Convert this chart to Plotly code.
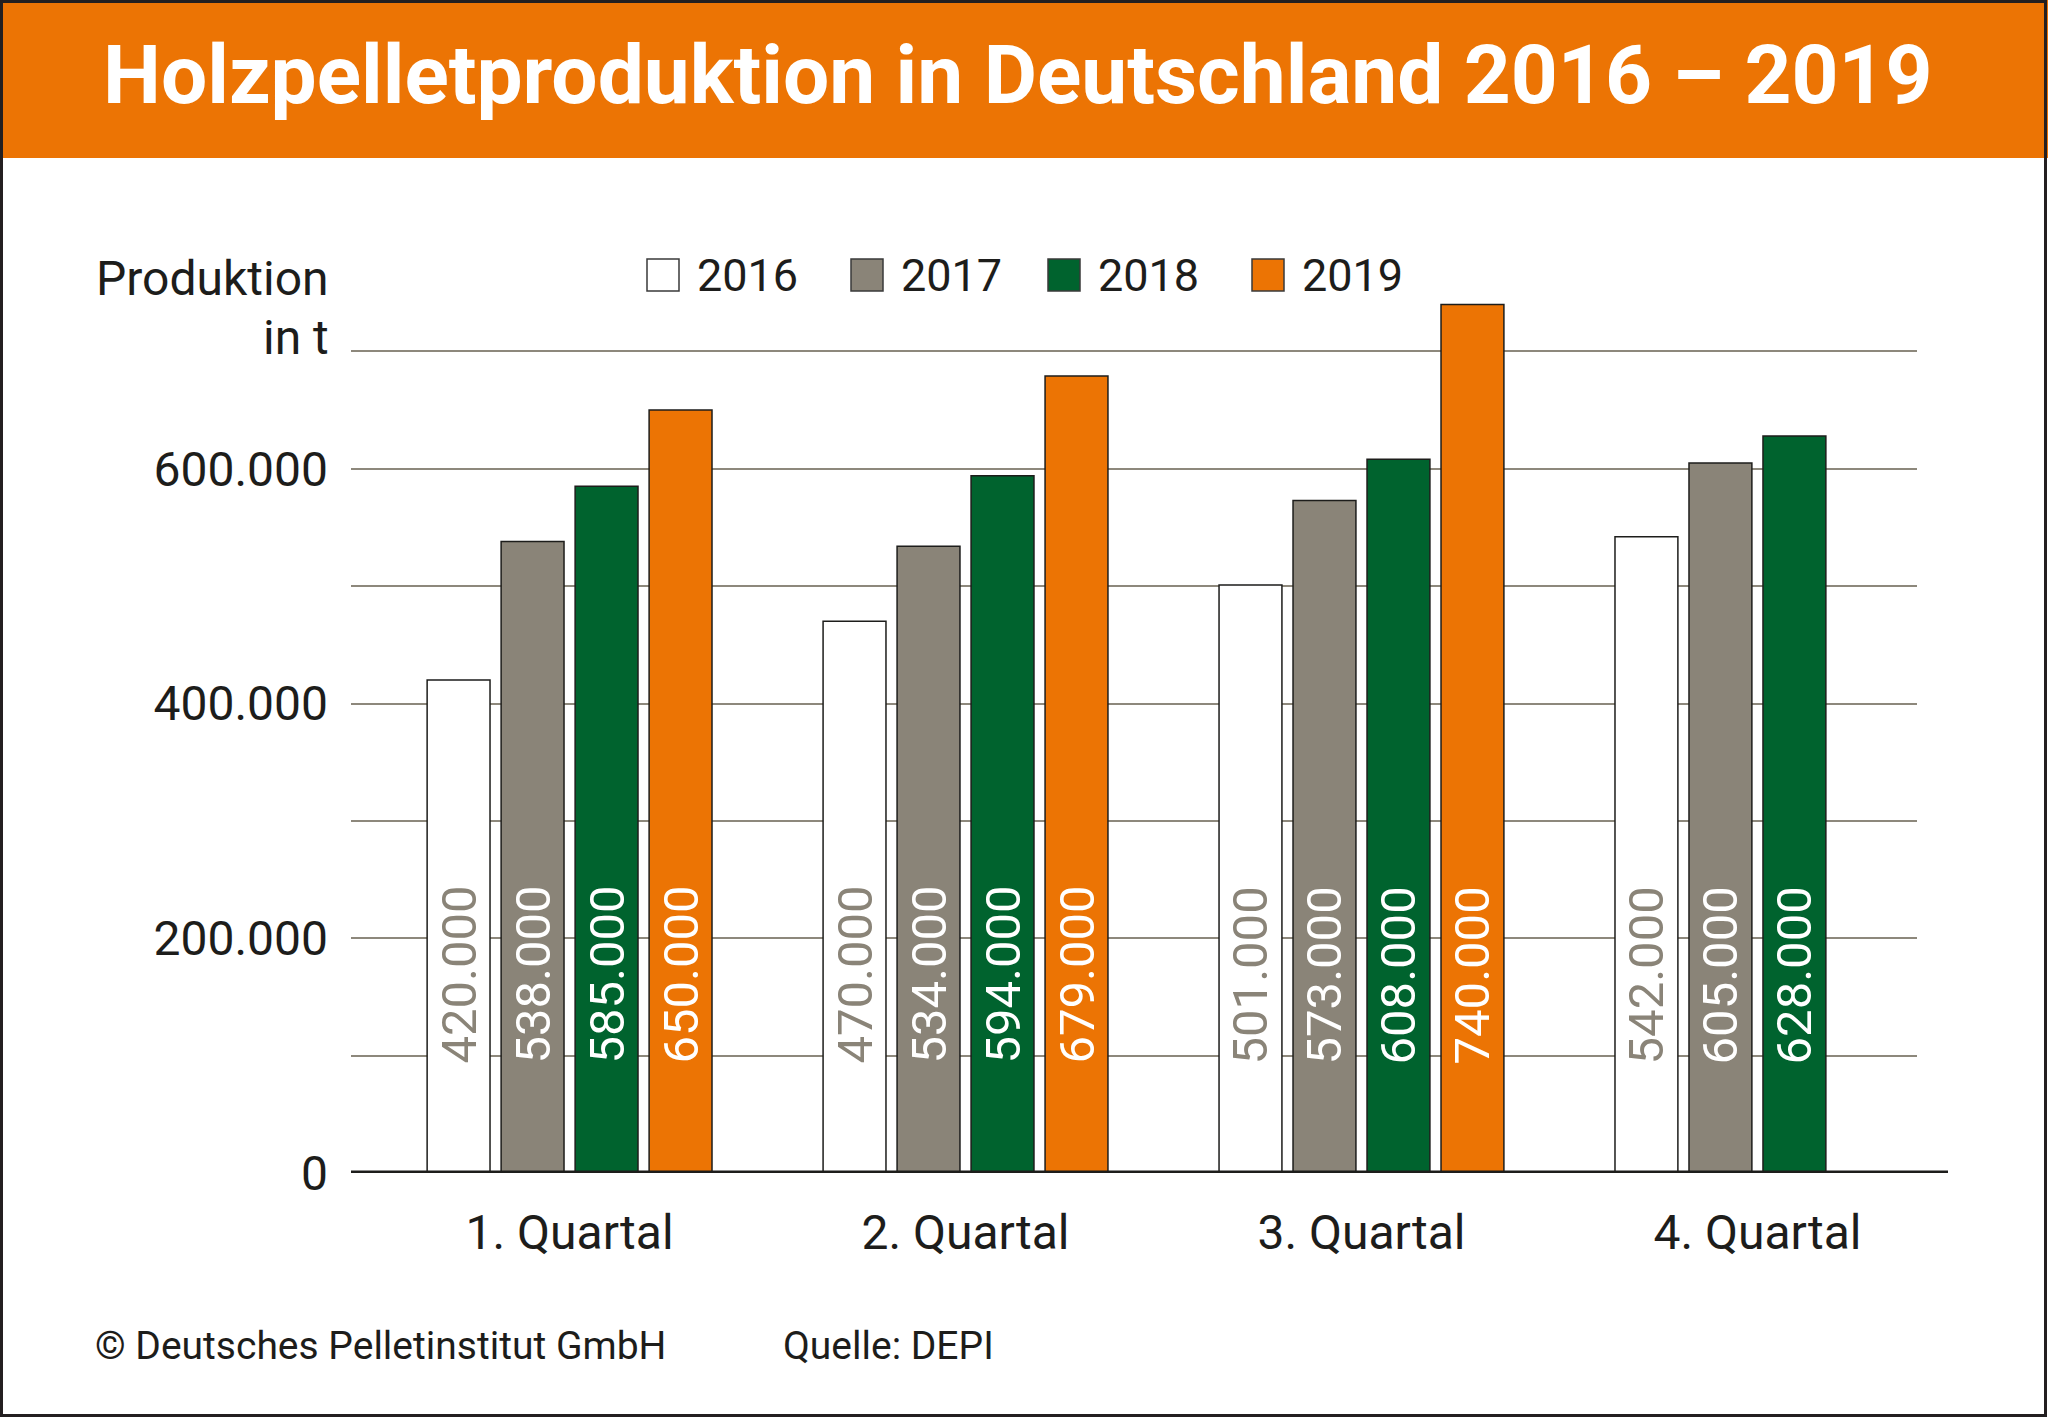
import plotly.graph_objects as go

# ---------------- data ----------------
categories = ["1. Quartal", "2. Quartal", "3. Quartal", "4. Quartal"]
years = ["2016", "2017", "2018", "2019"]
v2016 = [420000, 470000, 501000, 542000]
v2017 = [538000, 534000, 573000, 605000]
v2018 = [585000, 594000, 608000, 628000]
v2019 = [650000, 679000, 740000, None]
series_values = [v2016, v2017, v2018, v2019]

ytick_vals = [0, 100000, 200000, 300000, 400000, 500000, 600000, 700000]
ytick_text = ["0", "", "200.000", "", "400.000", "", "600.000", ""]

title_text = "Holzpelletproduktion in Deutschland 2016 – 2019"
ytitle_lines = ["Produktion", "in t"]
footer_left = "© Deutsches Pelletinstitut GmbH"
footer_right = "Quelle: DEPI"

# ---------------- styles ----------------
W_FIG, H_FIG = 2048, 1418
L, R, T, B = 351, 1917, 234, 1173
PW, PH = R - L, B - T
FONT = "Roboto"
DARK = "#1d1d1b"
ORANGE = "#ec7404"
colors = ["#ffffff", "#8a8478", "#00632e", ORANGE]
label_colors = ["#8a8478", "#ffffff", "#ffffff", "#ffffff"]
BARGAP = 0.2525
BARGROUPGAP = 0.15
legend_box_left = [647, 851, 1048, 1252]
LEG_BOX = 32
LEG_Y = 275


def px(X):
    return (X - L) / PW


def py(Y):
    return (B - Y) / PH


def fmt(v):
    return f"{v:,}".replace(",", ".")


xpos = list(range(len(categories)))

fig = go.Figure()
for name, vals, col in zip(years, series_values, colors):
    fig.add_trace(go.Bar(
        x=xpos, y=vals, name=name,
        marker=dict(color=col, line=dict(color=DARK, width=1.5)),
        showlegend=False, hoverinfo="skip",
    ))

annotations = []
# value labels inside bars (rotated)
nser = len(series_values)
slot = (1 - BARGAP) / nser
for k, (vals, lc) in enumerate(zip(series_values, label_colors)):
    for i, v in enumerate(vals):
        if v is None:
            continue
        annotations.append(dict(
            x=i + (k - (nser - 1) / 2) * slot, y=0, xref="x", yref="y",
            yshift=198, text=fmt(v), textangle=-90, showarrow=False,
            xanchor="center", yanchor="middle",
            font=dict(family=FONT, size=49, color=lc, weight=400),
        ))

# title
annotations.append(dict(
    x=px(1018), y=py(75), xref="paper", yref="paper", text=title_text,
    showarrow=False, xanchor="center", yanchor="middle",
    font=dict(family=FONT, size=82, color="#ffffff", weight="bold"),
))
# y-axis title
annotations.append(dict(
    x=px(331), y=py(278), xref="paper", yref="paper", text=ytitle_lines[0],
    showarrow=False, xanchor="right", yanchor="middle",
    font=dict(family=FONT, size=48, color=DARK),
))
annotations.append(dict(
    x=px(331), y=py(338), xref="paper", yref="paper", text=ytitle_lines[1],
    showarrow=False, xanchor="right", yanchor="middle",
    font=dict(family=FONT, size=48, color=DARK),
))
# footer
annotations.append(dict(
    x=px(93), y=py(1346), xref="paper", yref="paper", text=footer_left,
    showarrow=False, xanchor="left", yanchor="middle",
    font=dict(family=FONT, size=39, color=DARK),
))
annotations.append(dict(
    x=px(781), y=py(1346), xref="paper", yref="paper", text=footer_right,
    showarrow=False, xanchor="left", yanchor="middle",
    font=dict(family=FONT, size=39, color=DARK),
))

shapes = []
# orange banner
shapes.append(dict(type="rect", xref="paper", yref="paper",
                   x0=px(0), x1=px(W_FIG), y0=py(0), y1=py(158),
                   fillcolor=ORANGE, line=dict(width=0), layer="below"))
# outer border
shapes.append(dict(type="rect", xref="paper", yref="paper",
                   x0=px(1.5), x1=px(W_FIG - 2.5), y0=py(1.5), y1=py(H_FIG - 2.5),
                   fillcolor="rgba(0,0,0,0)", line=dict(color="#231f20", width=3)))
# baseline
shapes.append(dict(type="line", xref="paper", yref="y",
                   x0=px(L), x1=px(1948), y0=0, y1=0,
                   line=dict(color=DARK, width=5)))
# custom legend
for name, col, bx in zip(years, colors, legend_box_left):
    shapes.append(dict(type="rect", xref="paper", yref="paper",
                       x0=px(bx), x1=px(bx + LEG_BOX),
                       y0=py(LEG_Y - LEG_BOX / 2), y1=py(LEG_Y + LEG_BOX / 2),
                       fillcolor=col, line=dict(color="#3a3a3a", width=1.5)))
    annotations.append(dict(
        x=px(bx + LEG_BOX + 16), y=py(LEG_Y), xref="paper", yref="paper",
        text=name, showarrow=False, xanchor="left", yanchor="middle",
        font=dict(family=FONT, size=45, color=DARK),
    ))

fig.update_layout(
    width=W_FIG, height=H_FIG,
    margin=dict(l=L, r=W_FIG - R, t=T, b=H_FIG - B, pad=0),
    paper_bgcolor="#ffffff", plot_bgcolor="#ffffff",
    barmode="group", bargap=BARGAP, bargroupgap=BARGROUPGAP,
    showlegend=False,
    font=dict(family=FONT, color=DARK),
    xaxis=dict(
        range=[-0.552, 3.403], tickmode="array", tickvals=xpos, ticktext=categories,
        showgrid=False, zeroline=False, showline=False, ticks="",
        tickfont=dict(family=FONT, size=48, color=DARK), ticklabelstandoff=27,
    ),
    yaxis=dict(
        range=[0, 800000], tickmode="array", tickvals=ytick_vals, ticktext=ytick_text,
        showgrid=True, gridcolor="#8d887c", gridwidth=1.5, zeroline=False,
        showline=False, ticks="",
        tickfont=dict(family=FONT, size=48, color=DARK), ticklabelstandoff=22,
    ),
    annotations=annotations, shapes=shapes,
)

fig.write_html(
    "out.html",
    config={"displayModeBar": False},
    post_script="document.body.style.margin='0';document.body.style.overflow='hidden';",
)
